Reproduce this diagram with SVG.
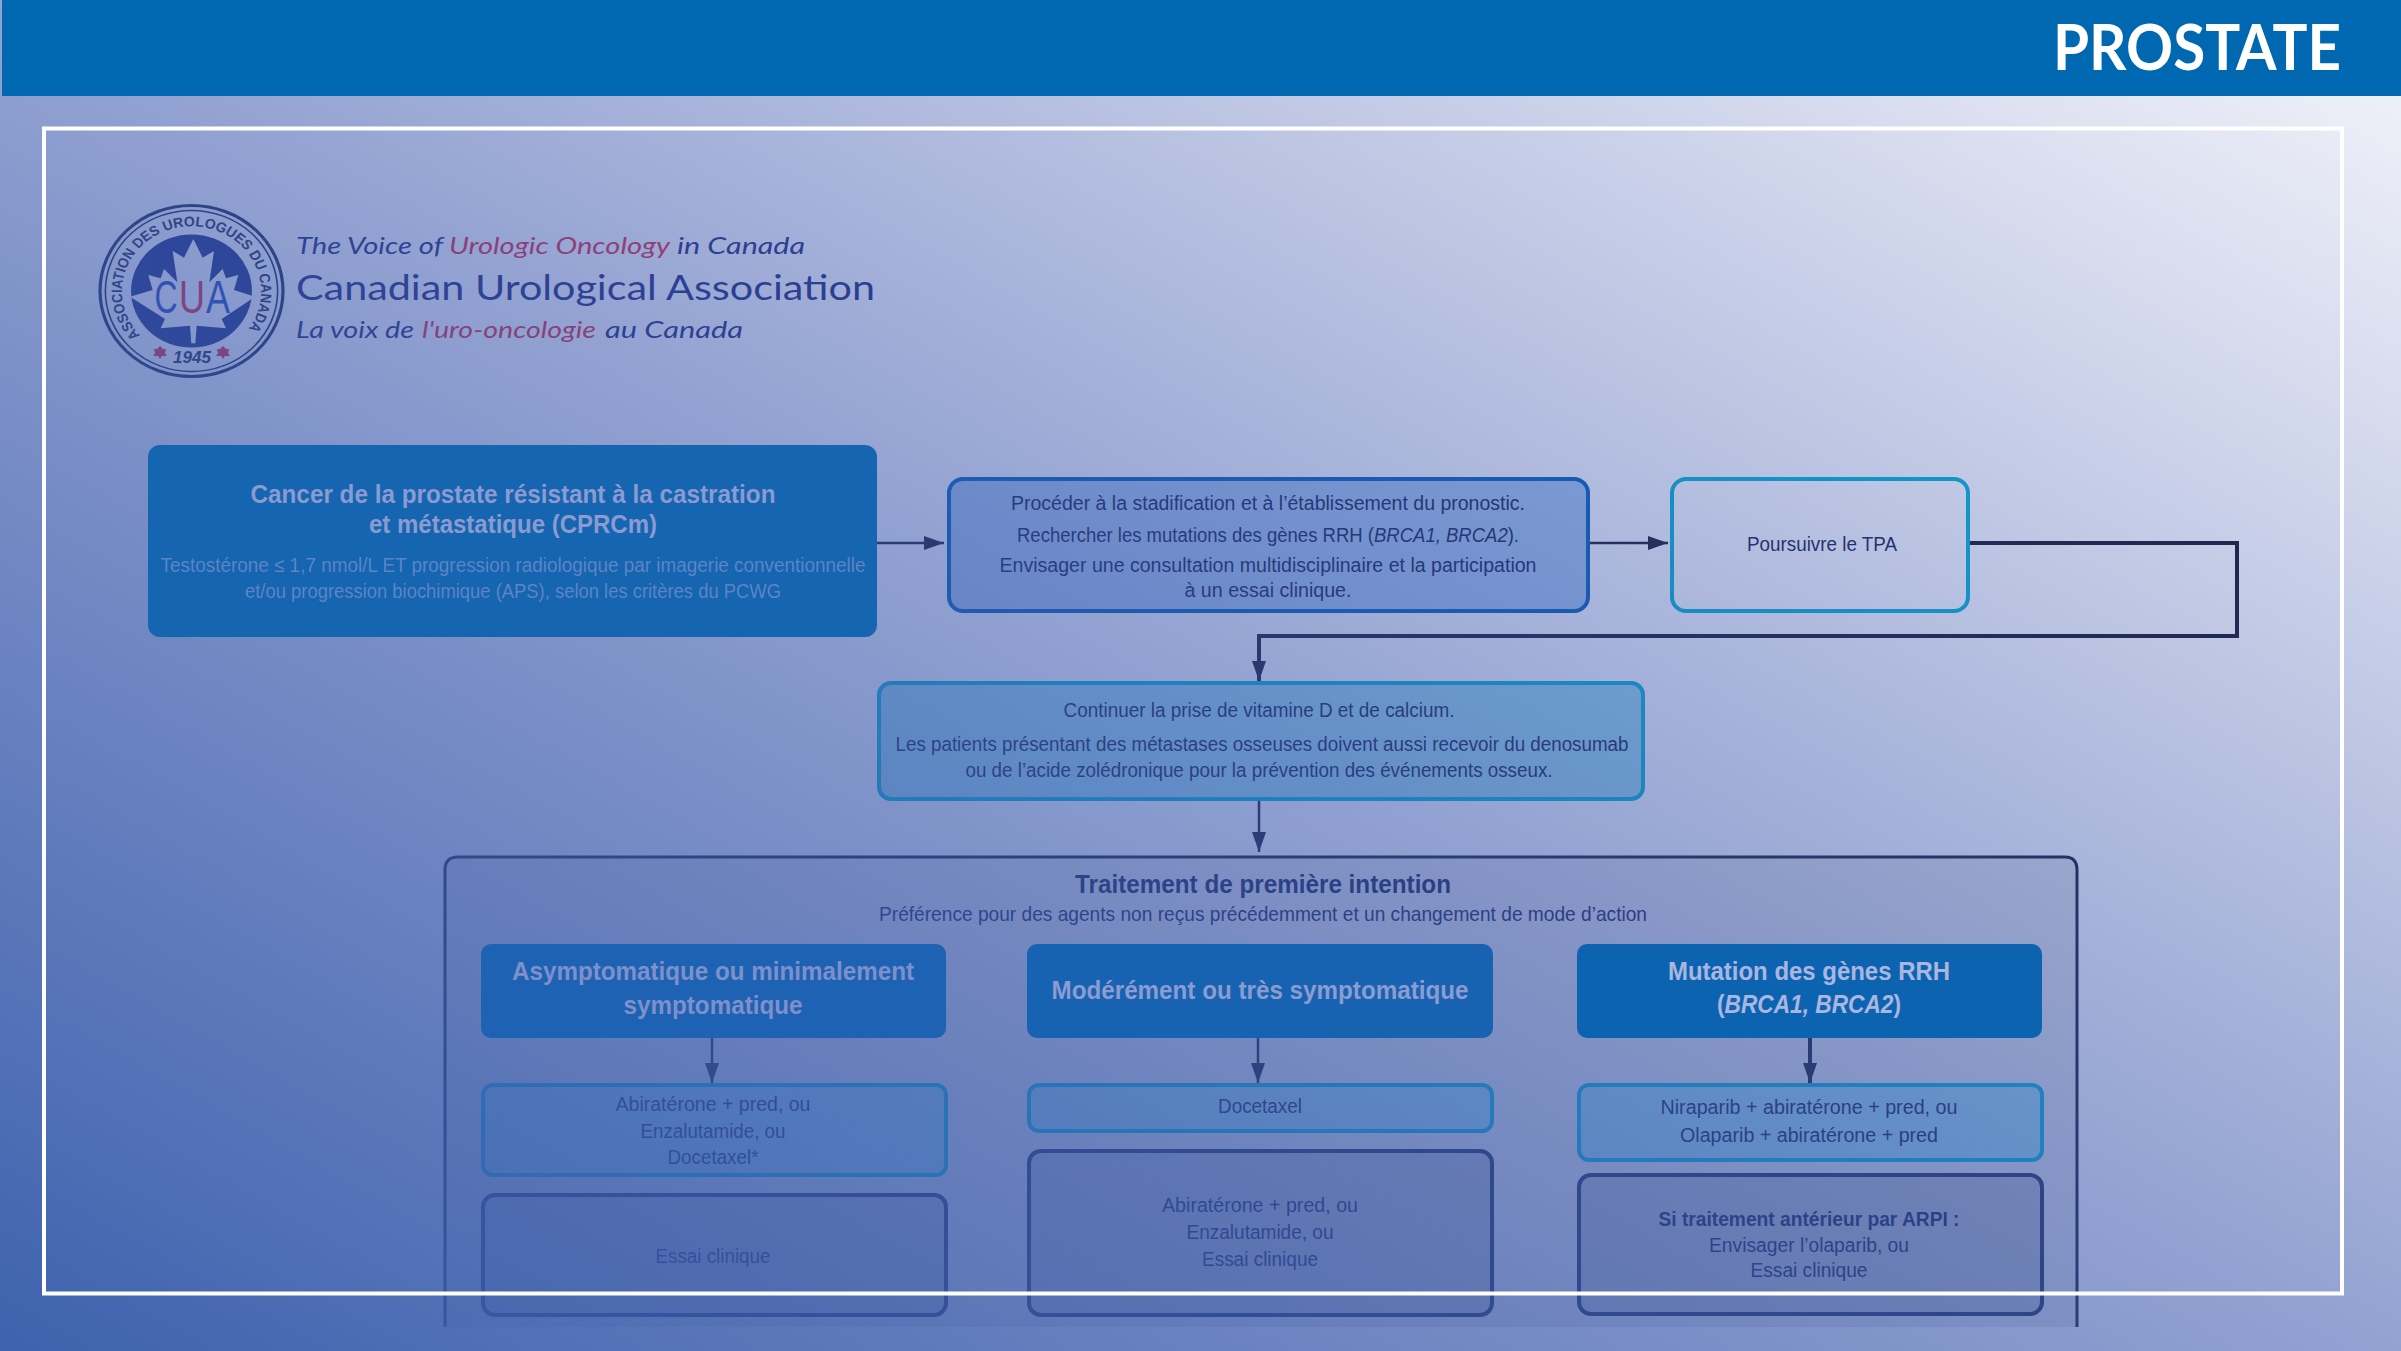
<svg xmlns="http://www.w3.org/2000/svg" width="2401" height="1351" viewBox="0 0 2401 1351">
<style>
text{font-family:"Liberation Sans",Arial,sans-serif;text-anchor:middle}
.b{font-size:20px;fill:#14204c}
.h{font-weight:bold;font-size:26px}
.t{font-weight:bold;font-size:26px;fill:#14204c}
.bb{font-weight:bold;font-size:20px;fill:#14204c}
.i{font-style:italic}
.lg{font-family:Lato,"Liberation Sans",sans-serif;text-anchor:start;font-style:italic;font-size:23px;fill:#1d2a78}
.lr{fill:#e8293c}
.lb{fill:#a5c6ea;stroke:#0060b4;stroke-width:4}
.cy{fill:#9ad8e8;stroke:#00b4d4;stroke-width:4}
.cw{fill:#ffffff;stroke:#00b4d4;stroke-width:4}
.gr{fill:#b6bac4;stroke:#1c2a50;stroke-width:4}
.ln{fill:none;stroke:#14182a;stroke-width:2.5}
.lh{fill:none;stroke:#14182a;stroke-width:4}
</style>
<defs>
<linearGradient id="veil" x1="0" y1="1" x2="1" y2="0">
<stop offset="0" stop-color="#3a5fac" stop-opacity="0.98"/>
<stop offset="0.5" stop-color="#3a56ac" stop-opacity="0.55"/>
<stop offset="1" stop-color="#3a50ac" stop-opacity="0.05"/>
</linearGradient>
<marker id="ah" viewBox="0 0 20 14" refX="20" refY="7" markerWidth="20" markerHeight="14" markerUnits="userSpaceOnUse" orient="auto"><path d="M0 0L20 7L0 14Z" fill="#14182a"/></marker>
<path id="ring" d="M-47.8 44.4A65 65 0 1 1 47.8 44.4"/>
</defs>
<rect width="2401" height="1351" fill="#ffffff"/>
<g id="logo">
<g transform="translate(191.5 291) scale(1.07 1)">
<circle r="85.5" fill="none" stroke="#1c2a50" stroke-width="3"/>
<circle r="80.5" fill="none" stroke="#1c2a50" stroke-width="1.5"/>
<circle r="56.5" fill="#1c2f80"/>
<text font-size="14" font-weight="bold" fill="#1c2a50" style="text-anchor:start"><textPath href="#ring" textLength="292" lengthAdjust="spacingAndGlyphs">ASSOCIATION DES UROLOGUES DU CANADA</textPath></text>
</g>
<polygon transform="translate(90 195) scale(0.3333)" fill="#ffffff" points="310,132 338,188 372,168 358,262 398,222 408,250 445,240 432,285 495,305 395,372 408,400 320,392 316,445 304,445 300,392 212,400 225,372 120,305 188,285 175,240 212,250 222,222 262,262 248,168 282,188"/>
<text x="166" y="313" font-size="46" fill="#1f4ac0" textLength="23" lengthAdjust="spacingAndGlyphs">C</text>
<text x="192" y="313" font-size="46" fill="#e8293c" textLength="26" lengthAdjust="spacingAndGlyphs">U</text>
<text x="218" y="313" font-size="46" fill="#1f4ac0" textLength="24" lengthAdjust="spacingAndGlyphs">A</text>
<text x="192" y="363" font-size="17" font-weight="bold" font-style="italic" fill="#1c2a50" textLength="38" lengthAdjust="spacingAndGlyphs">1945</text>
<polygon fill="#e8293c" points="160,346 163,349 166,349 165,353 167,356 162,356 160,359 158,356 153,356 155,353 154,349 157,349"/>
<polygon fill="#e8293c" points="223,346 226,349 229,349 228,353 230,356 225,356 223,359 221,356 216,356 218,353 217,349 220,349"/>
<text class="lg" x="296" y="254" textLength="147" lengthAdjust="spacingAndGlyphs">The Voice of</text>
<text class="lg lr" x="449" y="254" textLength="221" lengthAdjust="spacingAndGlyphs">Urologic Oncology</text>
<text class="lg" x="677" y="254" textLength="128" lengthAdjust="spacingAndGlyphs">in Canada</text>
<text class="lg" x="296" y="300" style="font-style:normal;font-size:35px" textLength="579" lengthAdjust="spacingAndGlyphs">Canadian Urological Association</text>
<text class="lg" x="296" y="338" textLength="118" lengthAdjust="spacingAndGlyphs">La voix de</text>
<text class="lg lr" x="422" y="338" textLength="174" lengthAdjust="spacingAndGlyphs">l'uro-oncologie</text>
<text class="lg" x="605" y="338" textLength="138" lengthAdjust="spacingAndGlyphs">au Canada</text>
</g>
<g id="container">
<path d="M445 1327V870Q445 857 458 857H2065Q2077 857 2077 870V1327Z" fill="#e4e4e6"/>
<path d="M445 1327V870Q445 857 458 857H2065Q2077 857 2077 870V1327" fill="none" stroke="#14182a" stroke-width="3"/>
<text class="t" x="1263" y="893" textLength="376" lengthAdjust="spacingAndGlyphs">Traitement de première intention</text>
<text class="b" x="1263" y="921" style="font-size:21px" textLength="768" lengthAdjust="spacingAndGlyphs">Préférence pour des agents non reçus précédemment et un changement de mode d’action</text>
</g>
<g id="connectors">
<path class="ln" d="M877 543H944" marker-end="url(#ah)"/>
<path class="ln" d="M1590 543H1668" marker-end="url(#ah)"/>
<path class="lh" d="M1970 543H2237V636H1259V681" marker-end="url(#ah)"/>
<path class="ln" d="M1259 801V852" marker-end="url(#ah)"/>
<path class="ln" d="M712 1038V1083" marker-end="url(#ah)"/>
<path class="ln" d="M1258 1038V1083" marker-end="url(#ah)"/>
<path class="lh" d="M1810 1038V1083" marker-end="url(#ah)"/>
</g>
<g id="n-stadification">
<rect class="lb" x="949" y="479" width="639" height="132" rx="14"/>
<text class="b" x="1268" y="510" textLength="514" lengthAdjust="spacingAndGlyphs">Procéder à la stadification et à l’établissement du pronostic.</text>
<text class="b" x="1268" y="542" textLength="502" lengthAdjust="spacingAndGlyphs">Rechercher les mutations des gènes RRH (<tspan class="i">BRCA1, BRCA2</tspan>).</text>
<text class="b" x="1268" y="572" textLength="537" lengthAdjust="spacingAndGlyphs">Envisager une consultation multidisciplinaire et la participation</text>
<text class="b" x="1268" y="597" textLength="167" lengthAdjust="spacingAndGlyphs">à un essai clinique.</text>
</g>
<g id="n-tpa">
<rect class="cw" x="1672" y="479" width="296" height="132" rx="14"/>
<text class="b" x="1822" y="551" textLength="150" lengthAdjust="spacingAndGlyphs">Poursuivre le TPA</text>
</g>
<g id="n-vitamine">
<rect class="cy" x="879" y="683" width="764" height="116" rx="12"/>
<text class="b" x="1259" y="717" textLength="391" lengthAdjust="spacingAndGlyphs">Continuer la prise de vitamine D et de calcium.</text>
<text class="b" x="1262" y="751" textLength="733" lengthAdjust="spacingAndGlyphs">Les patients présentant des métastases osseuses doivent aussi recevoir du denosumab</text>
<text class="b" x="1259" y="777" textLength="587" lengthAdjust="spacingAndGlyphs">ou de l’acide zolédronique pour la prévention des événements osseux.</text>
</g>
<g id="n-c1r2">
<rect class="cy" x="483" y="1085" width="463" height="90" rx="10"/>
<text class="b" x="713" y="1111" textLength="195" lengthAdjust="spacingAndGlyphs">Abiratérone + pred, ou</text>
<text class="b" x="713" y="1138" textLength="145" lengthAdjust="spacingAndGlyphs">Enzalutamide, ou</text>
<text class="b" x="713" y="1164" textLength="91" lengthAdjust="spacingAndGlyphs">Docetaxel*</text>
</g>
<g id="n-c2r2">
<rect class="cy" x="1029" y="1085" width="463" height="46" rx="10"/>
<text class="b" x="1260" y="1113" textLength="84" lengthAdjust="spacingAndGlyphs">Docetaxel</text>
</g>
<g id="n-c3r2">
<rect class="cy" x="1579" y="1085" width="463" height="75" rx="10"/>
<text class="b" x="1809" y="1114" textLength="297" lengthAdjust="spacingAndGlyphs">Niraparib + abiratérone + pred, ou</text>
<text class="b" x="1809" y="1142" textLength="258" lengthAdjust="spacingAndGlyphs">Olaparib + abiratérone + pred</text>
</g>
<g id="n-c1r3">
<rect class="gr" x="483" y="1195" width="463" height="120" rx="12"/>
<text class="b" x="713" y="1263" textLength="115" lengthAdjust="spacingAndGlyphs">Essai clinique</text>
</g>
<g id="n-c2r3">
<rect class="gr" x="1029" y="1151" width="463" height="164" rx="12"/>
<text class="b" x="1260" y="1212" textLength="196" lengthAdjust="spacingAndGlyphs">Abiratérone + pred, ou</text>
<text class="b" x="1260" y="1239" textLength="147" lengthAdjust="spacingAndGlyphs">Enzalutamide, ou</text>
<text class="b" x="1260" y="1266" textLength="116" lengthAdjust="spacingAndGlyphs">Essai clinique</text>
</g>
<g id="n-c3r3">
<rect class="gr" x="1579" y="1175" width="463" height="139" rx="12"/>
<text class="bb" x="1809" y="1226" textLength="301" lengthAdjust="spacingAndGlyphs">Si traitement antérieur par ARPI :</text>
<text class="b" x="1809" y="1252" textLength="200" lengthAdjust="spacingAndGlyphs">Envisager l’olaparib, ou</text>
<text class="b" x="1809" y="1277" textLength="117" lengthAdjust="spacingAndGlyphs">Essai clinique</text>
</g>
<rect id="veil-overlay" width="2401" height="1351" fill="url(#veil)"/>
<g id="n-cprcm">
<rect x="148" y="445" width="729" height="192" rx="12" fill="#1565b0"/>
<text class="h" x="513" y="503" fill="#8b9ad0" textLength="525" lengthAdjust="spacingAndGlyphs">Cancer de la prostate résistant à la castration</text>
<text class="h" x="513" y="533" fill="#8b9ad0" textLength="288" lengthAdjust="spacingAndGlyphs">et métastatique (CPRCm)</text>
<text x="513" y="572" font-size="20" fill="#5c84c6" textLength="705" lengthAdjust="spacingAndGlyphs">Testostérone ≤ 1,7 nmol/L ET progression radiologique par imagerie conventionnelle</text>
<text x="513" y="598" font-size="20" fill="#5c84c6" textLength="536" lengthAdjust="spacingAndGlyphs">et/ou progression biochimique (APS), selon les critères du PCWG</text>
</g>
<g id="n-asympto">
<rect x="481" y="944" width="465" height="94" rx="10" fill="#1e62b3"/>
<text class="h" x="713" y="980" fill="#7e90cb" textLength="402" lengthAdjust="spacingAndGlyphs">Asymptomatique ou minimalement</text>
<text class="h" x="713" y="1014" fill="#7e90cb" textLength="179" lengthAdjust="spacingAndGlyphs">symptomatique</text>
</g>
<g id="n-sympto">
<rect x="1027" y="944" width="466" height="94" rx="10" fill="#1763b2"/>
<text class="h" x="1260" y="999" fill="#8c9bd0" textLength="417" lengthAdjust="spacingAndGlyphs">Modérément ou très symptomatique</text>
</g>
<g id="n-rrh">
<rect x="1577" y="944" width="465" height="94" rx="10" fill="#0c64b0"/>
<text class="h" x="1809" y="980" fill="#aab6e0" textLength="282" lengthAdjust="spacingAndGlyphs">Mutation des gènes RRH</text>
<text class="h" x="1809" y="1013" fill="#aab6e0" textLength="184" lengthAdjust="spacingAndGlyphs">(<tspan class="i">BRCA1, BRCA2</tspan>)</text>
</g>
<g id="header">
<rect x="2" y="0" width="2399" height="96" fill="#0067b1"/>
<text x="2197" y="70" font-weight="bold" font-size="63" fill="#ffffff" style="font-family:Lato,'Liberation Sans',sans-serif" textLength="288" lengthAdjust="spacingAndGlyphs">PROSTATE</text>
</g>
<rect id="frame" x="44" y="128.5" width="2298" height="1165" fill="none" stroke="#ffffff" stroke-width="4"/>
</svg>
